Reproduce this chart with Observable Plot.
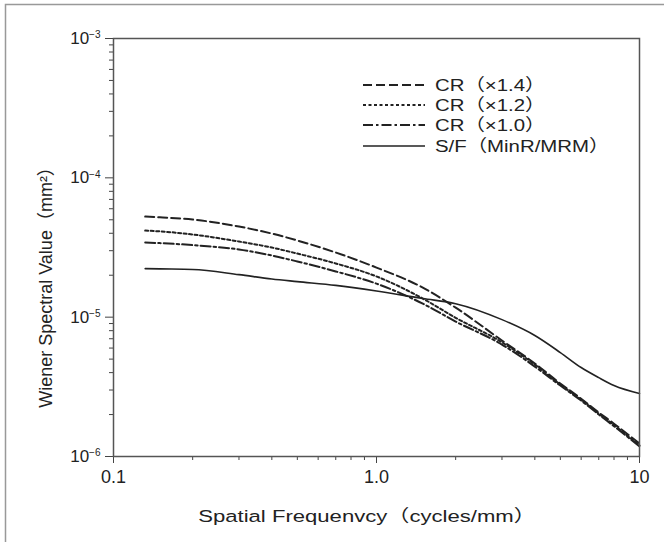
<!DOCTYPE html>
<html><head><meta charset="utf-8">
<script src="https://cdn.jsdelivr.net/npm/d3@7"></script>
<script src="https://cdn.jsdelivr.net/npm/@observablehq/plot@0.6"></script>
<style>
html,body{margin:0;padding:0;background:#fff;}
#chart{position:relative;width:664px;height:542px;}
</style></head><body><div id="chart"></div>
<script>
// Spatial frequency (cycles/mm)
const freq = [0.132, 0.15, 0.2, 0.3, 0.4, 0.5, 0.7, 1.0, 1.5, 2, 3, 4, 5, 6, 7, 8, 10];
// Wiener spectral values (mm^2)
const cr14 = [5.27e-5, 5.21e-5, 5.02e-5, 4.47e-5, 3.98e-5, 3.55e-5, 2.91e-5, 2.27e-5, 1.63e-5, 1.17e-5, 6.8e-6, 4.65e-6, 3.34e-6, 2.60e-6, 2.07e-6, 1.72e-6, 1.24e-6];
const cr12 = [4.18e-5, 4.13e-5, 3.92e-5, 3.49e-5, 3.16e-5, 2.86e-5, 2.43e-5, 1.96e-5, 1.36e-5, 9.9e-6, 6.6e-6, 4.57e-6, 3.28e-6, 2.56e-6, 2.03e-6, 1.68e-6, 1.20e-6];
const cr10 = [3.43e-5, 3.40e-5, 3.29e-5, 3.06e-5, 2.77e-5, 2.51e-5, 2.13e-5, 1.74e-5, 1.25e-5, 9.3e-6, 6.36e-6, 4.42e-6, 3.23e-6, 2.52e-6, 2.00e-6, 1.65e-6, 1.18e-6];
const sf   = [2.23e-5, 2.22e-5, 2.20e-5, 2.02e-5, 1.88e-5, 1.80e-5, 1.69e-5, 1.54e-5, 1.36e-5, 1.25e-5, 9.6e-6, 7.38e-6, 5.57e-6, 4.35e-6, 3.68e-6, 3.23e-6, 2.83e-6];
const seriesLabels = ["CR（×1.4）", "CR（×1.2）", "CR（×1.0）", "S/F（MinR/MRM）"];
// Tick values
const xMajor = [0.1, 1, 10];
const xMajorLabels = ["0.1", "1.0", "10"];
const xMinor = [0.2,0.3,0.4,0.5,0.6,0.7,0.8,0.9,2,3,4,5,6,7,8,9];
const yMajor = [1e-6, 1e-5, 1e-4, 1e-3];
const yMinor = [2e-6,3e-6,4e-6,5e-6,6e-6,7e-6,8e-6,9e-6,2e-5,3e-5,4e-5,5e-5,6e-5,7e-5,8e-5,9e-5,2e-4,3e-4,4e-4,5e-4,6e-4,7e-4,8e-4,9e-4];
const xTitle = "Spatial Frequenvcy（cycles/mm）";
const yTitle = "Wiener Spectral Value（mm²）";

const styles = [
  {dash: "9,4", width: 2},
  {dash: "3,2.5", width: 2},
  {dash: "10,3,2.5,3", width: 2},
  {dash: null, width: 1.6}
];
const seriesValues = [cr14, cr12, cr10, sf];
const tables = seriesValues.map(vals => freq.map((f, i) => ({f, v: vals[i]})));

const font = "'Liberation Sans', Arial, 'Noto Sans CJK JP', sans-serif";
const ink = "#222";

const plot = Plot.plot({
  width: 664, height: 542,
  marginLeft: 113, marginRight: 25, marginTop: 38, marginBottom: 86,
  style: {fontFamily: font, background: "#fff", color: ink, overflow: "visible"},
  x: {type: "log", domain: [0.1, 10]},
  y: {type: "log", domain: [1e-6, 1e-3]},
  marks: [
    Plot.axisX({ticks: xMinor, tickSize: 4, tickFormat: () => "", stroke: "#444", label: null}),
    Plot.axisX({ticks: xMajor, tickSize: 7, tickPadding: 7, tickFormat: d => xMajorLabels[xMajor.indexOf(d)], fontSize: 18, stroke: "#444", fill: ink, label: null}),
    Plot.axisY({ticks: yMinor, tickSize: 4, tickFormat: () => "", stroke: "#444", label: null}),
    Plot.axisY({ticks: yMajor, tickSize: 8, tickPadding: 5, tickFormat: d => "10|" + Math.round(Math.log10(d)), fontSize: 17, stroke: "#444", fill: ink, label: null}),
    ...tables.map((t, k) => Plot.line(t, {
      x: "f", y: "v", curve: "monotone-x",
      stroke: ink, strokeWidth: styles[k].width,
      strokeDasharray: styles[k].dash
    })),
    Plot.frame({stroke: "#555", strokeWidth: 1.5})
  ]
});

const svg = d3.select(plot);
// superscript exponents on y tick labels
svg.selectAll('g[aria-label="y-axis tick label"] text').each(function() {
  const t = d3.select(this);
  const s = t.text();
  if (!s.includes("|")) return;
  const [base, exp] = s.split("|");
  t.text(base);
  t.append("tspan").attr("dy", "-0.55em").attr("font-size", "10px").text(exp.replace("-", "−"));
});

// legend
const lg = svg.append("g").attr("font-family", font).attr("font-size", 17).attr("fill", ink).attr("text-anchor", "start");
const rows = [85, 105, 125, 146];
seriesLabels.forEach((lab, k) => {
  lg.append("line").attr("x1", 363).attr("x2", 425).attr("y1", rows[k]).attr("y2", rows[k])
    .attr("stroke", ink).attr("stroke-width", styles[k].width)
    .attr("stroke-dasharray", styles[k].dash);
  lg.append("text").attr("transform", `translate(435,${rows[k]}) scale(1.2,1)`).attr("dy", "0.35em").text(lab);
});

// axis titles
svg.append("text").attr("transform", "translate(367,516) scale(1.3,1)").attr("dy", "0.35em")
  .attr("text-anchor", "middle").attr("font-family", font).attr("font-size", 17).attr("fill", ink).text(xTitle);
svg.append("text").attr("transform", "translate(46,283) rotate(-90)").attr("dy", "0.35em")
  .attr("text-anchor", "middle").attr("font-family", font).attr("font-size", 18).attr("fill", ink).text(yTitle);

// outer border of the figure
svg.append("path").attr("d", "M5.5,542V4.5H664").attr("fill", "none").attr("stroke", "#999").attr("stroke-width", 1.5);

document.getElementById("chart").appendChild(plot);
</script>
</body></html>
